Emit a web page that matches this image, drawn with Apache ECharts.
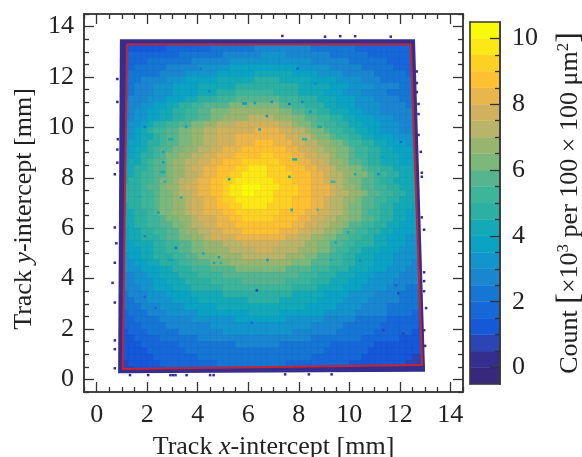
<!DOCTYPE html>
<html><head><meta charset="utf-8">
<style>html,body{margin:0;padding:0;background:#fff}#c{width:582px;height:457px}</style>
<script src="https://cdn.jsdelivr.net/npm/echarts@6/dist/echarts.min.js"></script>
</head><body><div id="c"></div>
<script>
// Count per 100x100 um^2 cell (base 36; band k spans -0.5+0.5k .. 0+0.5k ×10^3).
// Rows run from y=13.375 mm down to y=0.375 mm in 0.25 mm steps; columns from x=1.125 mm to x=12.875 mm.
const countRows = [
"33333333 44444445 55555555 55554444 44444333 33332222",
"33333334 44444455 55555666 66666655 55555444 44444433",
"34444444 45555555 66666677 77666666 65555554 44444433",
"44445555 55566666 67777777 77777766 66665555 55444444",
"44555556 66667777 78888888 88887777 76666655 55544444",
"45555566 66777778 88888999 99988887 77766666 55555444",
"55566667 77888889 99999aaa a9999988 88777766 65555555",
"55666777 88889999 99aaaaaa aaaa9999 98887777 66665555",
"55666777 8888999a aabbbbbb aaaa9999 88877766 66555555",
"56667778 8899aaab bbcccccc cbbbaaa9 99888777 66665555",
"66677889 9aabbccc cddddddd dccbbaaa 99888777 76666555",
"66778899 aabbccdd deeeeeee eddccbba a9998877 76666655",
"66778899 aabbccdd eeeeffff eeeddccb baa99888 77766666",
"67789aab bccddeef ffgggggg gffeddcc bbaa9988 87776666",
"7789abbc cddeeffg ggggghhh hggffedd cbbaa998 87776666",
"77899abc cddeeffg gghhhhhh hhggffed dcbbaa99 88877766",
"7889aabc cddeeffg gghhhiii hhhggffe eddcbbaa 99888777",
"8899abcc ddeeffgg hhhiiiii iihhggff eeddcbba a9988877",
"889aabcd deeffggh hhiiiijj iiihhggf feddcbba a9998887",
"899abccd eeffgghh iiijjjjj jiiihhgg feedccba a9998888",
"99aabccd eefgghhi iijjkkkj jjiiihhg gfeeddcb baa99988",
"99abbccd eeffghhi ijjkkkkj jjjiiihh gffeeddc bbaa9998",
"9aabbcdd effghhii jjkkkkkk jjjiiihh gffeddcc baa99998",
"aaabccde efgghhii jkklllkk kjjjiihh hgfeedcc bbaa9998",
"aaabbcdd effghhii jkkllkkk jjjjiihh hgffeedc cbbaa998",
"aaabbcdd eefgghhi jjkkkkkk jjjiiihh gffeedcc bbaa9998",
"9aabbcdd eefgghhi ijjkkkkj jjjiiihh gffeddcc baa99988",
"99aabcdd eefgghhh iijjjjjj jiiiihhg gffeddcb baa99888",
"99aabbcd deefgggh hiijjjjj iiiihhgg ffeeddcc baa99888",
"99aabbcc ddeffggh hhiiiiii iiihhggf feedccbb aa998888",
"899aabbc cdeeffgg hhhiiiii ihhhggff eedccbba a9988887",
"899aaabc cddeefgg gghhhhhh hhggffee ddccbbaa 99888777",
"88999aab bccddeee fffggggg gffffeed dccbbaaa 99888777",
"88899aab bccddeee effffggg ffffeeed dcbbaa99 98887777",
"78899aaa bbccddde eeefffff ffeeeddc cbbaa999 88877776",
"778899aa abbcccdd deeeeeee eeedddcc cbbaa999 88877766",
"77788899 aaabbbcc ccdddddd ddccccbb baaa9998 88777666",
"66778899 9aaabbbb cccccccc ccccbbba aa999888 77776666",
"66777889 99aaaabb bbbccccc ccbbbbaa a9998887 77766665",
"66677888 999aaaaa bbbbbbbb bbbaaaa9 99988877 77666555",
"56667778 88899999 aaaaaaaa aaa99999 88887777 66665555",
"55667777 88889999 9999aaaa a9999998 88877776 66665555",
"55566677 77888889 99999999 99999888 88777766 66555554",
"45556667 77778888 88889999 98888888 77777666 66555544",
"44555566 66677777 77888888 88777777 66666555 55444443",
"44455556 66666677 77777777 77777766 66655555 54444443",
"34445555 56666666 77777777 77766666 66555555 44444433",
"33444455 55556666 66666666 66666655 55555544 44443333",
"33344444 45555555 55666666 65555555 54444444 33333333",
"33334444 44555555 55555555 55555555 44444443 33333333",
"33333444 44445555 55555555 55555544 44444433 33333322",
"23333344 44444445 55555555 55444444 44443333 33333222",
"22333334 44444444 44444444 44444444 44433333 33333222"
];
const firstRowY = 13.375, firstColX = 1.125, coarseStep = 0.25, fineStep = 0.1;
// Isolated low cells inside the acceptance: [x mm, y mm, band]
const speckles = [[5.81,10.95,7],[5.9,10.95,7],[6.26,10.97,8],[2.88,9.53,9],[2.98,9.53,9],[2.64,9.02,8],[2.64,8.62,8],[2.57,8.23,9],[2.67,8.23,9],[2.7,7.85,10],[5.24,7.94,9],[3.34,7.22,10],[1.71,7.25,9],[4.12,12.33,5],[4.45,11.43,6],[1.91,10.02,5],[3.54,10.02,8],[6.45,9.92,9],[6.74,10.45,7],[7.95,12.33,4],[7.63,10.93,5],[8.18,9.53,10],[8.28,9.53,10],[8.78,10.02,9],[8.88,10.02,9],[7.79,8.73,9],[7.89,8.73,9],[7.63,8.04,9],[9.31,7.84,11],[9.41,7.84,11],[11.15,8.14,6],[11.26,8.83,8],[11.36,8.83,8],[12.04,9.42,4],[10.23,8.14,9],[8.65,11.74,6],[8.45,10.62,7],[6.93,11.01,7],[8.14,11.01,6],[3.14,5.22,5],[1.91,5.68,6],[2.44,6.62,8],[2.88,4.74,8],[2.98,4.74,8],[4.65,4.62,9],[4.91,4.62,10],[4.84,4.85,8],[4.22,5.0,9],[6.76,4.74,7],[6.34,3.53,2],[6.14,2.25,4],[2.34,2.83,4],[1.91,3.27,4],[2.8,1.84,4],[7.72,6.73,9],[8.75,6.73,12],[9.96,5.83,9],[9.46,5.44,9],[9.27,4.74,9],[10.43,4.72,6],[11.35,1.95,2],[12.14,1.82,2],[11.94,3.42,2],[11.85,3.73,4]];
// Stray low-count cells just outside the acceptance: [x mm, y mm]
const strayCells = [[.82,11.92],[.82,11.01],[.84,9.53],[.82,9.12],[.72,8.14],[.82,8.6],[.72,6.03],[.78,5.4],[.72,4.63],[.63,3.83],[.72,3.05],[.72,1.55],[.72,1.2],[.72,.44],[12.67,12.22],[12.67,11.76],[12.67,11.4],[12.74,10.93],[12.74,10.53],[12.74,9.7],[12.83,9.03],[12.87,8.04],[12.87,8.2],[12.87,6.43],[12.96,5.94],[12.96,4.25],[12.96,3.9],[12.96,3.5],[13.04,2.83],[12.96,1.95],[13.0,1.33],[7.35,13.63],[9.04,13.6],[9.64,13.62],[10.23,13.62],[11.64,13.6],[1.32,.17],[2.04,.17],[3.02,.17],[3.12,.17],[2.92,.17],[3.56,.17],[4.49,.17],[4.63,.17],[7.46,.2],[8.4,.2],[9.3,.2]];
// Outline of the low-count band around the acceptance, mm
const strayBand = [[.92,13.5],[12.6,13.5],[13.0,.3],[.85,.24]];
// Acceptance polygon (red), mm
const acceptance = [[1.2,13.3],[12.43,13.3],[12.88,.57],[1.03,.41],[1.2,13.3]];
const xMajor = [0,2,4,6,8,10,12,14];
const xMinor = [-.5,.5,1,1.5,2.5,3,3.5,4.5,5,5.5,6.5,7,7.5,8.5,9,9.5,10.5,11,11.5,12.5,13,13.5,14.5];
const barMajor = [0,2,4,6,8,10];
const barMinor = [.5,1,1.5,2.5,3,3.5,4.5,5,5.5,6.5,7,7.5,8.5,9,9.5];
const bandEdges = [-.5,0,.5,1,1.5,2,2.5,3,3.5,4,4.5,5,5.5,6,6.5,7,7.5,8,8.5,9,9.5,10,10.5];
const bandColors = ['#38297f','#352e8e','#2d45b4','#1558d8','#1668d8','#1676d4','#1a86d0','#1494cc','#0ba3c4','#14a9b6','#2bb0a2','#3db59a','#56b48f','#7cb87c','#98b56f','#b8b46a','#d0b25e','#e8b64c','#fcc032','#fdd024','#fce815','#f9f90a'];

const serif = '"Liberation Serif","Times New Roman",serif', ink = '#222', frame = '#3a3a3a', FS = 26;

const coarse = [];
countRows.forEach((r, j) => { r.replace(/ /g, '').split('').forEach((c, i) => {
  coarse.push([firstColX + i * coarseStep, firstRowY - j * coarseStep, parseInt(c, 36)]);
});});

const lerp = (a, b, y) => a[0] + (b[0] - a[0]) * (y - a[1]) / (b[1] - a[1]);
const leftAt = y => lerp(acceptance[0], acceptance[3], y);
const rightAt = y => lerp(acceptance[1], acceptance[2], y);
const bottomAt = x => acceptance[3][1] + (acceptance[2][1] - acceptance[3][1]) * (x - acceptance[3][0]) / (acceptance[2][0] - acceptance[3][0]);
const topY = acceptance[0][1];

function cellItem(step) {
  return function (params, api) {
    const x = api.value(0), y = api.value(1), h = step / 2, col = bandColors[api.value(2)];
    const yT = Math.min(y + h, topY), yB0 = y - h;
    const xa = x - h, xb = x + h;
    const yBa = Math.max(yB0, bottomAt(xa)), yBb = Math.max(yB0, bottomAt(xb));
    if (yT <= yBa && yT <= yBb) return null;
    const xTa = Math.max(xa, leftAt(yT)), xBa = Math.max(xa, leftAt(yBa));
    const xTb = Math.min(xb, rightAt(yT)), xBb = Math.min(xb, rightAt(yBb));
    if (xTb <= xTa && xBb <= xBa) return null;
    const pts = [[xTa, yT], [xTb, yT], [xBb, yBb], [xBa, yBa]].map(p => api.coord(p));
    return {type: 'polygon', shape: {points: pts}, style: {fill: col, stroke: col, lineWidth: .6}};
  };
}
function freeCell(params, api) {
  const c = api.coord([api.value(0), api.value(1)]), s = api.size([fineStep, fineStep]);
  return {type: 'rect', shape: {x: c[0] - s[0] / 2, y: c[1] - s[1] / 2, width: s[0], height: s[1]}, style: {fill: bandColors[api.value(2) ]}};
}
function bandPoly(params, api) {
  return {type: 'polygon', shape: {points: strayBand.map(p => api.coord(p))}, style: {fill: bandColors[1]}};
}
function barItem(params, api) {
  const a = api.coord([0, api.value(0)]), b = api.coord([1, api.value(1)]), col = bandColors[api.value(2)];
  return {type: 'rect', shape: {x: a[0], y: b[1], width: b[0] - a[0], height: a[1] - b[1]}, style: {fill: col, stroke: col, lineWidth: .4}};
}

const line = {show: true, onZero: false, lineStyle: {color: frame, width: 1.6}};
function axis(kind, pos, grid, vals, len, label, extra, range) {
  return Object.assign({
    type: 'value', gridIndex: grid, position: pos, min: range[0], max: range[1], z: 6,
    axisLine: line, splitLine: {show: false}, minorTick: {show: false},
    axisTick: {show: len > 0, inside: true, length: len, customValues: vals, lineStyle: {color: '#333', width: 1.3}},
    axisLabel: label ? {show: true, customValues: vals, fontFamily: serif, fontSize: FS, color: ink, margin: 10} : {show: false}
  }, extra || {});
}
const R = [-.5, 14.5];
function nameStyle(pad) {
  return {nameLocation: 'middle', nameTextStyle: {fontFamily: serif, fontSize: FS, color: ink, padding: pad,
    rich: {a: {fontFamily: serif, fontSize: FS, color: ink}, i: {fontFamily: serif, fontSize: FS, fontStyle: 'italic', color: ink},
           b: {fontFamily: serif, fontSize: 32, color: ink}, s: {fontFamily: serif, fontSize: 17, color: ink, padding: [0, 0, 12, 0]}}}};
}

const xAxes = [
  axis('x', 'bottom', 0, xMajor, 10, true, Object.assign(nameStyle([0, 0, 0, 0]), {name: '{a|Track }{i|x}{a|-intercept [mm]}', nameGap: 42}), R),
  axis('x', 'bottom', 0, xMinor, 5, false, null, R),
  axis('x', 'top', 0, xMajor, 10, false, null, R),
  axis('x', 'top', 0, xMinor, 5, false, null, R),
  axis('x', 'bottom', 1, [], 0, false, null, [0, 1]),
  axis('x', 'top', 1, [], 0, false, null, [0, 1])
];
const yAxes = [
  axis('y', 'left', 0, xMajor, 10, true, Object.assign(nameStyle([0, 12, 0, 0]), {name: '{a|Track }{i|y}{a|-intercept [mm]}', nameGap: 47}), R),
  axis('y', 'left', 0, xMinor, 5, false, null, R),
  axis('y', 'right', 0, xMajor, 10, false, null, R),
  axis('y', 'right', 0, xMinor, 5, false, null, R),
  axis('y', 'left', 1, [], 0, false, null, [-.5, 10.5]),
  axis('y', 'right', 1, barMajor, 10, true, Object.assign(nameStyle([0, 0, 0, 0]), {name: '{a|Count }{b|[}{a|×10}{s|3}{a| per 100 × 100 μm}{s|2}{b|]}', nameGap: 54, nameRotate: 90}), [-.5, 10.5]),
  axis('y', 'right', 1, barMinor, 5, false, null, [-.5, 10.5])
];
yAxes[5].axisLabel.margin = 12;

const onMain = {type: 'custom', xAxisIndex: 0, yAxisIndex: 0, coordinateSystem: 'cartesian2d', silent: true, animation: false, clip: true};
const option = {
  animation: false, backgroundColor: '#fff',
  grid: [{left: 84, top: 14, width: 379, height: 378, outerBoundsMode: 'none'}, {left: 470, top: 22, width: 30, height: 362, outerBoundsMode: 'none'}],
  xAxis: xAxes, yAxis: yAxes,
  series: [
    Object.assign({}, onMain, {name: 'band', renderItem: bandPoly, data: [[0, 0]]}),
    Object.assign({}, onMain, {name: 'stray', renderItem: freeCell, data: strayCells.map(p => [p[0], p[1], 1]), encode: {x: 0, y: 1}}),
    Object.assign({}, onMain, {name: 'counts', renderItem: cellItem(coarseStep), data: coarse, encode: {x: 0, y: 1}}),
    Object.assign({}, onMain, {name: 'speckles', renderItem: freeCell, data: speckles, encode: {x: 0, y: 1}}),
    {type: 'line', xAxisIndex: 0, yAxisIndex: 0, data: acceptance, symbol: 'none', silent: true, animation: false,
     lineStyle: {color: '#c8232f', width: 2}, z: 4},
    {type: 'custom', xAxisIndex: 4, yAxisIndex: 4, coordinateSystem: 'cartesian2d', silent: true, animation: false, renderItem: barItem,
     data: bandColors.map((c, k) => [bandEdges[k], bandEdges[k + 1], k]), encode: {y: [0, 1]}}
  ]
};
const chart = echarts.init(document.getElementById('c'), null, {renderer: 'canvas'});
chart.setOption(option);
</script></body></html>
